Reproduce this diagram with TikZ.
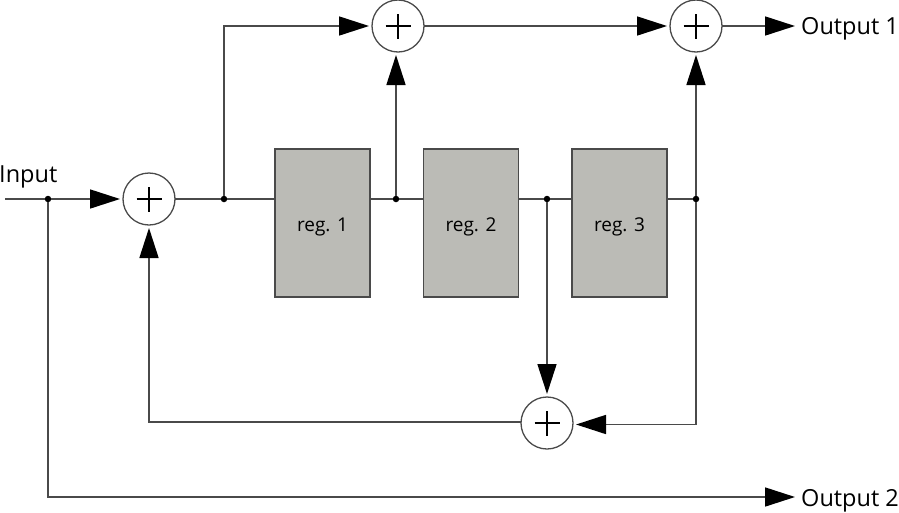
\documentclass[tikz,border=0pt]{standalone}
\usepackage{fontspec}
\setmainfont{Open Sans}
\usetikzlibrary{arrows.meta}
\definecolor{wire}{HTML}{4A4A4A}
\definecolor{regfill}{HTML}{BBBBB6}
\newcommand{\reglabel}[1]{\raisebox{-8pt}[0pt][0pt]{#1}}
\tikzset{
  wireline/.style={draw=wire,line width=1.6pt},
  arrowline/.style={wireline,-{Triangle[length=30pt,width=19pt,color=black]},shorten >=3pt},
  adder/.style={circle,draw=wire,line width=1.3pt,fill=white,minimum size=52pt,inner sep=0pt,outer sep=0pt,
    path picture={\draw[black,line width=2.6pt]
      (path picture bounding box.center) +(-12.5pt,0) -- +(12.5pt,0)
      (path picture bounding box.center) +(0,-12.5pt) -- +(0,12.5pt);}},
  regbox/.style={rectangle,draw=wire,line width=1.2pt,fill=regfill,minimum width=95pt,minimum height=148pt,inner sep=0pt,outer sep=0pt,font=\fontsize{19}{24}\selectfont,text=black},
  junction/.style={circle,fill=black,minimum size=6.5pt,inner sep=0pt,outer sep=0pt},
  iolabel/.style={anchor=base west,inner sep=0pt,font=\fontsize{23.5}{28}\selectfont,text=black}
}
\begin{document}
\begin{tikzpicture}[x=1pt,y=-1pt]
\useasboundingbox (0,0) rectangle (899,512);
% nodes
\node[adder] (a1) at (149,199) {};
\node[adder] (a2) at (398,26) {};
\node[adder] (a3) at (696,26) {};
\node[adder] (a4) at (547,423) {};
\node[regbox] (r1) at (322.5,223) {\reglabel{reg. 1}};
\node[regbox] (r2) at (471,223) {\reglabel{reg. 2}};
\node[regbox] (r3) at (619.5,223) {\reglabel{reg. 3}};
\node[junction] (j0) at (48,199) {};
\node[junction] (j1) at (224,199) {};
\node[junction] (j2) at (396,199) {};
\node[junction] (j3) at (547,199) {};
\node[junction] (j4) at (696,199) {};
\coordinate (in) at (5,199);
\coordinate (c1) at (224,26);
\coordinate (c2) at (149,422);
\coordinate (c3) at (696,424.5);
\coordinate (c4) at (48,497);
\node[iolabel] (linput) at (-1,182) {Input};
\node[iolabel] (lout1) at (801,34) {Output 1};
\node[iolabel] (lout2) at (801,506) {Output 2};
\coordinate (t1) at (798,26);
\coordinate (t2) at (798,497);
% connectors
\draw[wireline] (in) -- (j0);
\draw[arrowline] (j0) -- (a1.west);
\draw[wireline] (a1.east) -- (j1) -- (j1 -| r1.west);
\draw[wireline] (j2 -| r1.east) -- (j2) -- (j2 -| r2.west);
\draw[wireline] (j3 -| r2.east) -- (j3) -- (j3 -| r3.west);
\draw[wireline] (j4 -| r3.east) -- (j4);
\draw[arrowline] (j1) -- (c1) -- (a2.west);
\draw[arrowline] (j2) -- (j2 |- a2.south);
\draw[arrowline] (a2.east) -- (a3.west);
\draw[arrowline] (j4) -- (a3.south);
\draw[arrowline] (a3.east) -- (t1);
\draw[arrowline] (j3) -- (a4.north);
\draw[arrowline] (j4) -- (c3) -- (a4.east |- c3);
\draw[arrowline] (a4.west |- c2) -- (c2) -- (a1.south);
\draw[arrowline] (j0) -- (c4) -- (t2);
\end{tikzpicture}
\end{document}
